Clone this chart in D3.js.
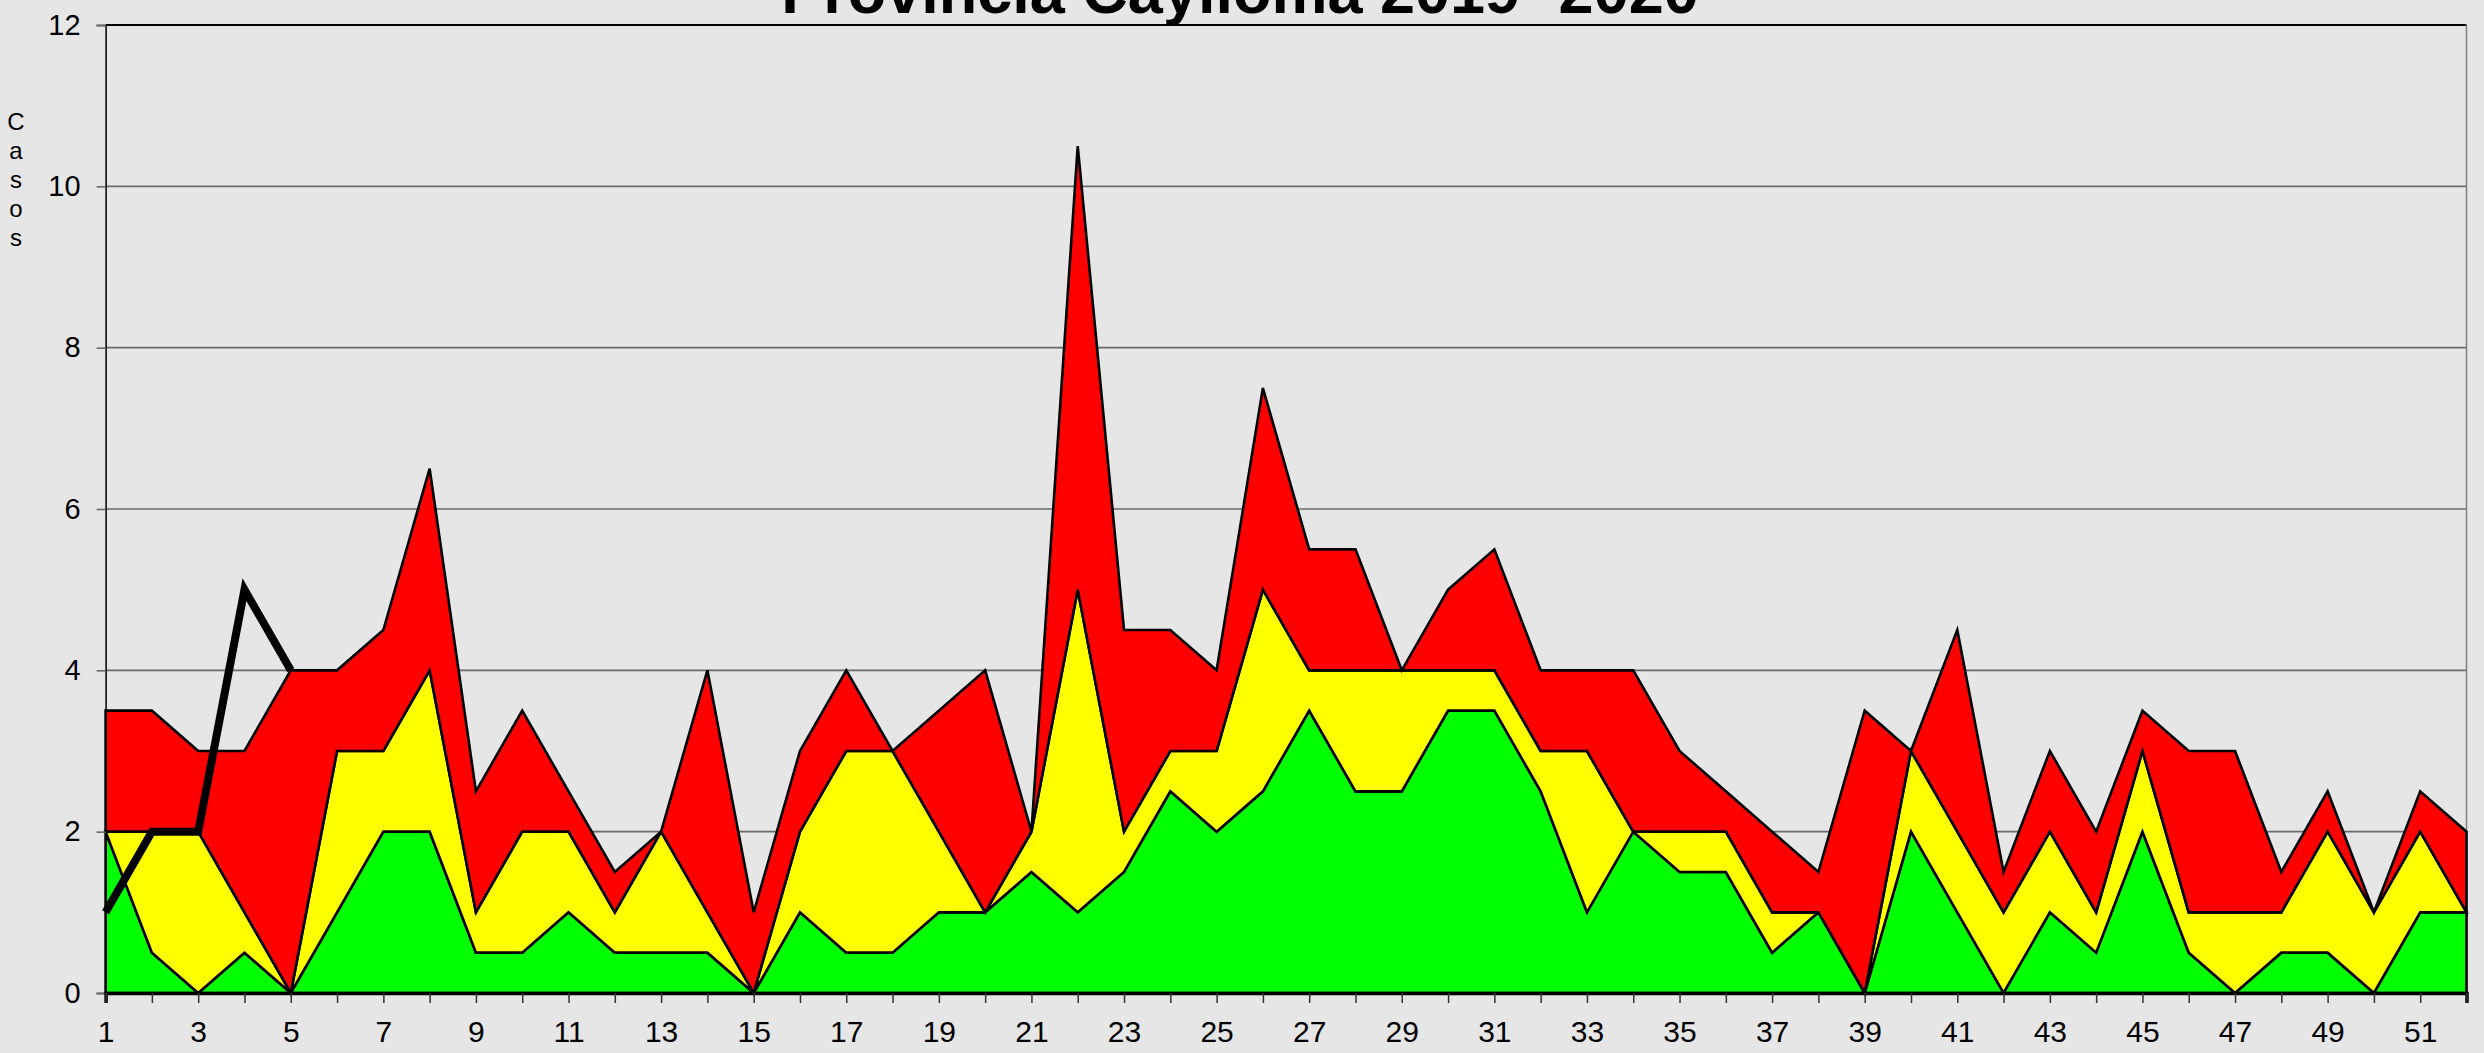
<!DOCTYPE html>
<html>
<head>
<meta charset="utf-8">
<script src="https://cdn.jsdelivr.net/npm/d3@7"></script>
<style>
  body { margin: 0; background: #e6e6e6; }
  svg { display: block; font-family: "Liberation Sans", Arial, sans-serif; }
</style>
</head>
<body>
<svg id="chartCanvas" width="2484" height="1053"></svg>
<script>
// weeks 1..52
var weeks = d3.range(1, 53);

// cases per week, each layer stacked on the previous
var verde = [2,0.5,0,0.5,0,1,2,2,0.5,0.5,1,0.5,0.5,0.5,0,1,0.5,0.5,1,1,1.5,1,1.5,2.5,2,2.5,3.5,2.5,2.5,3.5,3.5,2.5,1,2,1.5,1.5,0.5,1,0,2,1,0,1,0.5,2,0.5,0,0.5,0.5,0,1,1];
var amarillo = [0,1.5,2,0.5,0,2,1,2,0.5,1.5,1,0.5,1.5,0.5,0,1,2.5,2.5,1,0,0.5,4,0.5,0.5,1,2.5,0.5,1.5,1.5,0.5,0.5,0.5,2,0,0.5,0.5,0.5,0,0,1,1,1,1,0.5,1,0.5,1,0.5,1.5,1,1,0];
var rojo = [1.5,1.5,1,2,4,1,1.5,2.5,1.5,1.5,0.5,0.5,0,3,1,1,1,0,1.5,3,0,5.5,2.5,1.5,1,2.5,1.5,1.5,0,1,1.5,1,1,2,1,0.5,1,0.5,3.5,0,2.5,0.5,1,1,0.5,2,2,0.5,0.5,0,0.5,1];

// current year, only first weeks
var actualWeeks = [1, 2, 3, 4, 5];
var actual = [1, 2, 2, 5, 4];

var yTicks = [0, 2, 4, 6, 8, 10, 12];
var title = "Provincia Caylloma 2019 -2020";
var yLabel = "Casos";

var svg = d3.select("#chartCanvas");

var x = d3.scaleLinear()
    .domain([1, 52])
    .range([105.6, 2466.5]);

var y = d3.scaleLinear()
    .domain([0, 12])
    .range([993, 25]);

// 1. gridlines
svg.append("g")
    .selectAll("line")
    .data(yTicks.filter(function(d) { return d > 0; }))
    .enter().append("line")
    .attr("x1", x(1))
    .attr("x2", x(52))
    .attr("y1", function(d) { return y(d); })
    .attr("y2", function(d) { return y(d); })
    .attr("stroke", function(d) { return d == 12 ? "#000" : "#6a6a6a"; })
    .attr("stroke-width", function(d) { return d == 12 ? 2 : 1.6; });

// right border of the plot
svg.append("line")
    .attr("x1", x(52)).attr("x2", x(52))
    .attr("y1", y(12)).attr("y2", y(0))
    .attr("stroke", "#808080")
    .attr("stroke-width", 1.5);

// 2. stacked areas
var table = weeks.map(function(w, i) {
    return {week: w, verde: verde[i], amarillo: amarillo[i], rojo: rojo[i]};
});
var keys = ["verde", "amarillo", "rojo"];
var colors = {verde: "#00ff00", amarillo: "#ffff00", rojo: "#ff0000"};
var series = d3.stack().keys(keys)(table);

var area = d3.area()
    .x(function(d) { return x(d.data.week); })
    .y0(function(d) { return y(d[0]); })
    .y1(function(d) { return y(d[1]); });

svg.append("g")
    .selectAll("path")
    .data(series)
    .enter().append("path")
    .attr("d", area)
    .attr("fill", function(s) { return colors[s.key]; })
    .attr("stroke", "#000")
    .attr("stroke-width", 2.6)
    .attr("stroke-linejoin", "miter");

// 3. thick black line for the current year
var line = d3.line()
    .x(function(d) { return x(d[0]); })
    .y(function(d) { return y(d[1]); });

svg.append("path")
    .datum(d3.zip(actualWeeks, actual))
    .attr("d", line)
    .attr("fill", "none")
    .attr("stroke", "#000")
    .attr("stroke-width", 8)
    .attr("stroke-linejoin", "miter");

// 4. axes
var yAxis = svg.append("g")
    .attr("transform", "translate(" + x(1) + ",0)")
    .call(d3.axisLeft(y).tickValues(yTicks).tickSize(9).tickPadding(16));
yAxis.select(".domain").attr("stroke", "#000").attr("stroke-width", 1.5);
yAxis.selectAll(".tick line").attr("stroke", "#6a6a6a").attr("stroke-width", 1.6);
yAxis.selectAll(".tick text").attr("font-size", 29).attr("fill", "#000")
    .attr("font-family", "Liberation Sans, Arial, sans-serif");

var xAxis = svg.append("g")
    .attr("transform", "translate(0," + y(0) + ")")
    .call(d3.axisBottom(x).tickValues(weeks).tickSize(10).tickPadding(18)
        .tickFormat(function(d) { return d % 2 == 1 ? d : ""; }));
xAxis.select(".domain").attr("stroke", "#000").attr("stroke-width", 3.5);
xAxis.selectAll(".tick line").attr("stroke", "#333").attr("stroke-width", 1.5);
xAxis.selectAll(".tick text").attr("font-size", 30).attr("fill", "#000")
    .attr("font-family", "Liberation Sans, Arial, sans-serif");

// 5. title (cut by the top edge as in the original) and vertical label
svg.append("text")
    .attr("x", 1240)
    .attr("y", 13)
    .attr("text-anchor", "middle")
    .attr("font-size", 63)
    .attr("font-weight", "bold")
    .text(title);

svg.append("g")
    .selectAll("text")
    .data(yLabel.split(""))
    .enter().append("text")
    .attr("x", 16)
    .attr("y", function(d, i) { return 130 + i * 29; })
    .attr("text-anchor", "middle")
    .attr("font-size", 24)
    .text(function(d) { return d; });
</script>
</body>
</html>
